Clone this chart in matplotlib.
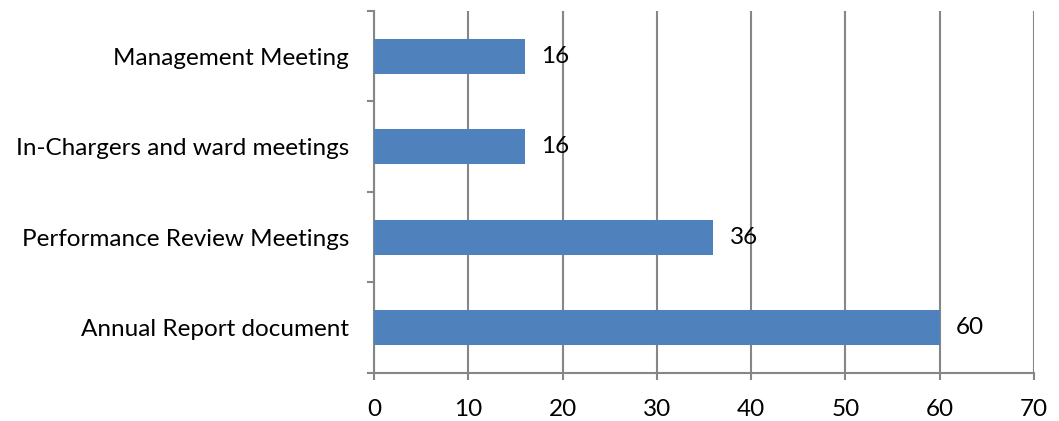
import numpy as np
import matplotlib.pyplot as plt

plt.rcParams['font.family'] = ['Lato', 'DejaVu Sans']

categories = ["Annual Report document", "Performance Review Meetings",
              "In-Chargers and ward meetings", "Management Meeting"]
values = [60, 36, 16, 16]
xticks = [0, 10, 20, 30, 40, 50, 60, 70]

BAR_COLOR = "#4F81BD"
GRID_COLOR = "#868686"
FS = 17.5

fig = plt.figure(figsize=(10.59, 4.21), dpi=100)
ax = fig.add_axes([0.3532, 0.114, 0.9764 - 0.3532, 0.974 - 0.114])

pos = np.arange(len(categories))
ax.barh(pos, values, height=0.39, color=BAR_COLOR, zorder=3)
for p, v in zip(pos, values):
    ax.text(v + 1.7, p, str(v), va="center", ha="left", fontsize=FS, zorder=4)

ax.set_xlim(0, 70)
ax.set_ylim(-0.5, len(categories) - 0.5)
ax.set_xticks(xticks)
ax.set_yticks(pos)
ax.set_yticklabels(categories)
ax.set_yticks(np.arange(-0.5, len(categories), 1.0), minor=True)

ax.tick_params(axis="y", which="major", length=0, pad=18, labelsize=FS)
ax.tick_params(axis="y", which="minor", length=5, width=1.5, color=GRID_COLOR, direction="out")
ax.tick_params(axis="x", length=5, width=1.5, color=GRID_COLOR, direction="out", pad=14, labelsize=FS)

ax.xaxis.grid(True, color=GRID_COLOR, linewidth=1.5, zorder=0)
ax.set_axisbelow(True)
for s in ["top", "right"]:
    ax.spines[s].set_visible(False)
for s in ["left", "bottom"]:
    ax.spines[s].set_color(GRID_COLOR)
    ax.spines[s].set_linewidth(1.5)

fig.savefig("out.png", dpi=100)
